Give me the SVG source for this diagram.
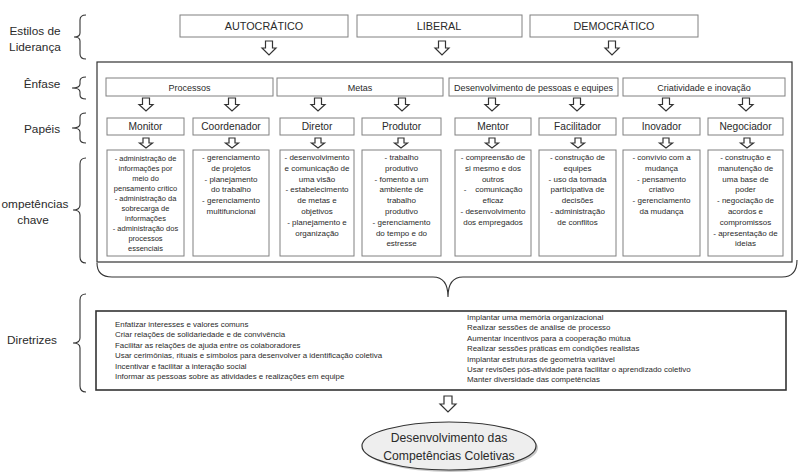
<svg xmlns="http://www.w3.org/2000/svg" width="800" height="476" viewBox="0 0 800 476">
<style>
.t{font-family:"Liberation Sans",Arial,sans-serif;fill:#2a2a2a}
.lbl{font-size:11.8px;text-anchor:middle}
.sty{font-size:10.8px;text-anchor:middle}
.enf{font-size:9px;text-anchor:middle}
.role{font-size:10.2px;text-anchor:middle}
.comp{font-size:8px;text-anchor:middle}
.compm{font-size:7.5px;text-anchor:middle}
.dir{font-size:7.9px}
.box{fill:#fff;stroke:#808080;stroke-width:1}
.frame{fill:none;stroke:#333;stroke-width:1.2}
.brace{fill:none;stroke:#333;stroke-width:1.1}
.arr{fill:#fff;stroke:#333;stroke-width:1.2;stroke-linejoin:miter}
</style>
<defs>
<path id="aL" class="arr" d="M-3.5 0H3.5V7H7L0 14L-7 7H-3.5Z"/>
<path id="aM" class="arr" d="M-3.5 0H3.5V6.5H7L0 13L-7 6.5H-3.5Z"/>
<path id="aS" class="arr" d="M-3 0H3V5H6.5L0 10L-6.5 5H-3Z"/>
</defs>
<rect width="800" height="476" fill="#fff"/>

<g id="labels">
<text class="t lbl" x="35" y="35">Estilos de</text>
<text class="t lbl" x="35" y="51">Liderança</text>
<text class="t lbl" x="42" y="88">Ênfase</text>
<text class="t lbl" x="42" y="133">Papéis</text>
<text class="t lbl" x="35" y="208">ompetências</text>
<text class="t lbl" x="33" y="224">chave</text>
<text class="t lbl" x="32" y="344">Diretrizes</text>
</g>

<g id="braces">
<path class="brace" d="M86 15Q80 15 80 20L80 33Q80 37 74 37Q80 37 80 41L80 54Q80 59 86 59"/>
<path class="brace" d="M86 77Q80 77 80 81L80 84Q80 88 72 88Q80 88 80 92L80 95Q80 99 86 99"/>
<path class="brace" d="M86 113Q80 113 80 117L80 124Q80 128 72 128Q80 128 80 132L80 139Q80 143 86 143"/>
<path class="brace" d="M86 158Q80 158 80 164L80 205Q80 210 73 210Q80 210 80 215L80 257Q80 263 86 263"/>
<path class="brace" d="M86 294Q80 294 80 300L80 338Q80 343 73 343Q80 343 80 348L80 386Q80 392 86 392"/>
<path class="brace" d="M97 263Q97 277 112 277L433 277Q448 277 448 297Q448 277 463 277L782 277Q797 277 797 260"/>
</g>

<g id="estilos">
<g id="autocratico"><rect class="box" x="180" y="15" width="168" height="22"/><text class="t sty" x="264" y="30">AUTOCRÁTICO</text></g>
<g id="liberal"><rect class="box" x="357" y="15" width="165" height="22"/><text class="t sty" x="439" y="30">LIBERAL</text></g>
<g id="democratico"><rect class="box" x="530" y="15" width="168" height="22"/><text class="t sty" x="614" y="30">DEMOCRÁTICO</text></g>
</g>

<g id="main-frame"><rect class="frame" x="97" y="62" width="695" height="200"/></g>

<g id="enfase">
<g id="processos"><rect class="box" x="106" y="78" width="167" height="18"/><text class="t enf" x="189.5" y="90.5">Processos</text></g>
<g id="metas"><rect class="box" x="277" y="78" width="166" height="18"/><text class="t enf" x="360" y="90.5">Metas</text></g>
<g id="desenvolvimento"><rect class="box" x="449" y="78" width="169" height="18"/><text class="t enf" x="533.5" y="90.5">Desenvolvimento de pessoas e equipes</text></g>
<g id="criatividade"><rect class="box" x="623" y="78" width="162" height="18"/><text class="t enf" x="704" y="90.5">Criatividade e inovação</text></g>
</g>

<g id="papeis">
<g id="monitor"><rect class="box" x="107" y="118" width="77" height="17"/><text class="t role" x="145.5" y="130">Monitor</text></g>
<g id="coordenador"><rect class="box" x="193" y="118" width="76" height="17"/><text class="t role" x="231" y="130">Coordenador</text></g>
<g id="diretor"><rect class="box" x="280" y="118" width="74" height="17"/><text class="t role" x="317" y="130">Diretor</text></g>
<g id="produtor"><rect class="box" x="362" y="118" width="79" height="17"/><text class="t role" x="401.5" y="130">Produtor</text></g>
<g id="mentor"><rect class="box" x="455" y="118" width="76" height="17"/><text class="t role" x="493" y="130">Mentor</text></g>
<g id="facilitador"><rect class="box" x="539" y="118" width="77" height="17"/><text class="t role" x="577.5" y="130">Facilitador</text></g>
<g id="inovador"><rect class="box" x="623" y="118" width="77" height="17"/><text class="t role" x="661.5" y="130">Inovador</text></g>
<g id="negociador"><rect class="box" x="708" y="118" width="75" height="17"/><text class="t role" x="745.5" y="130">Negociador</text></g>
</g>

<g id="competencias">
<g id="comp-monitor"><rect class="box" x="107" y="150" width="77" height="106"/>
<text class="t compm" y="160.5"><tspan x="145.5">- administração de</tspan><tspan x="145.5" dy="10">informações por</tspan><tspan x="145.5" dy="10">meio do</tspan><tspan x="145.5" dy="10">pensamento crítico</tspan><tspan x="145.5" dy="10">- administração da</tspan><tspan x="145.5" dy="10">sobrecarga de</tspan><tspan x="145.5" dy="10">informações</tspan><tspan x="145.5" dy="10">- administração dos</tspan><tspan x="145.5" dy="10">processos</tspan><tspan x="145.5" dy="10">essenciais</tspan></text></g>
<g id="comp-coordenador"><rect class="box" x="193" y="150" width="76" height="106"/>
<text class="t comp" y="160"><tspan x="231">- gerenciamento</tspan><tspan x="231" dy="10.8">de projetos</tspan><tspan x="231" dy="10.8">- planejamento</tspan><tspan x="231" dy="10.8">do trabalho</tspan><tspan x="231" dy="10.8">- gerenciamento</tspan><tspan x="231" dy="10.8">multifuncional</tspan></text></g>
<g id="comp-diretor"><rect class="box" x="280" y="150" width="74" height="106"/>
<text class="t comp" y="160"><tspan x="317">- desenvolvimento</tspan><tspan x="317" dy="10.8">e comunicação de</tspan><tspan x="317" dy="10.8">uma visão</tspan><tspan x="317" dy="10.8">- estabelecimento</tspan><tspan x="317" dy="10.8">de metas e</tspan><tspan x="317" dy="10.8">objetivos</tspan><tspan x="317" dy="10.8">- planejamento e</tspan><tspan x="317" dy="10.8">organização</tspan></text></g>
<g id="comp-produtor"><rect class="box" x="362" y="150" width="79" height="106"/>
<text class="t comp" y="160"><tspan x="401.5">- trabalho</tspan><tspan x="401.5" dy="10.8">produtivo</tspan><tspan x="401.5" dy="10.8">- fomento a um</tspan><tspan x="401.5" dy="10.8">ambiente de</tspan><tspan x="401.5" dy="10.8">trabalho</tspan><tspan x="401.5" dy="10.8">produtivo</tspan><tspan x="401.5" dy="10.8">- gerenciamento</tspan><tspan x="401.5" dy="10.8">do tempo e do</tspan><tspan x="401.5" dy="10.8">estresse</tspan></text></g>
<g id="comp-mentor"><rect class="box" x="455" y="150" width="76" height="106"/>
<text class="t comp" y="160"><tspan x="493">- compreensão de</tspan><tspan x="493" dy="10.8">si mesmo e dos</tspan><tspan x="493" dy="10.8">outros</tspan><tspan x="493" dy="10.8" xml:space="preserve">-    comunicação</tspan><tspan x="493" dy="10.8">eficaz</tspan><tspan x="493" dy="10.8">- desenvolvimento</tspan><tspan x="493" dy="10.8">dos empregados</tspan></text></g>
<g id="comp-facilitador"><rect class="box" x="539" y="150" width="77" height="106"/>
<text class="t comp" y="160"><tspan x="577.5">- construção de</tspan><tspan x="577.5" dy="10.8">equipes</tspan><tspan x="577.5" dy="10.8">- uso da tomada</tspan><tspan x="577.5" dy="10.8">participativa de</tspan><tspan x="577.5" dy="10.8">decisões</tspan><tspan x="577.5" dy="10.8">- administração</tspan><tspan x="577.5" dy="10.8">de conflitos</tspan></text></g>
<g id="comp-inovador"><rect class="box" x="623" y="150" width="77" height="106"/>
<text class="t comp" y="160"><tspan x="661.5">- convívio com a</tspan><tspan x="661.5" dy="10.8">mudança</tspan><tspan x="661.5" dy="10.8">- pensamento</tspan><tspan x="661.5" dy="10.8">criativo</tspan><tspan x="661.5" dy="10.8">- gerenciamento</tspan><tspan x="661.5" dy="10.8">da mudança</tspan></text></g>
<g id="comp-negociador"><rect class="box" x="708" y="150" width="75" height="106"/>
<text class="t comp" y="160"><tspan x="745.5">- construção e</tspan><tspan x="745.5" dy="10.8">manutenção de</tspan><tspan x="745.5" dy="10.8">uma base de</tspan><tspan x="745.5" dy="10.8">poder</tspan><tspan x="745.5" dy="10.8">- negociação de</tspan><tspan x="745.5" dy="10.8">acordos e</tspan><tspan x="745.5" dy="10.8">compromissos</tspan><tspan x="745.5" dy="10.8">- apresentação de</tspan><tspan x="745.5" dy="10.8">ideias</tspan></text></g>
</g>

<g id="diretrizes">
<rect x="96" y="311" width="690" height="79" fill="#fff" stroke="#333" stroke-width="1.6"/>
<text class="t dir" y="327"><tspan x="115">Enfatizar interesses e valores comuns</tspan><tspan x="115" dy="10.4">Criar relações de solidariedade e de convivência</tspan><tspan x="115" dy="10.4">Facilitar as relações de ajuda entre os colaboradores</tspan><tspan x="115" dy="10.4">Usar cerimônias, rituais e símbolos para desenvolver a identificação coletiva</tspan><tspan x="115" dy="10.4">Incentivar e facilitar a interação social</tspan><tspan x="115" dy="10.4">Informar as pessoas sobre as atividades e realizações em equipe</tspan></text>
<text class="t dir" y="320"><tspan x="467">Implantar uma memória organizacional</tspan><tspan x="467" dy="10.4">Realizar sessões de análise de processo</tspan><tspan x="467" dy="10.4">Aumentar incentivos para a cooperação mútua</tspan><tspan x="467" dy="10.4">Realizar sessões práticas em condições realistas</tspan><tspan x="467" dy="10.4">Implantar estruturas de geometria variável</tspan><tspan x="467" dy="10.4">Usar revisões pós-atividade para facilitar o aprendizado coletivo</tspan><tspan x="467" dy="10.4">Manter diversidade das competências</tspan></text>
</g>

<g id="resultado">
<ellipse cx="451" cy="448" rx="87" ry="24" fill="#c8c8c8"/>
<ellipse cx="449" cy="446" rx="87" ry="24" fill="#eeeeee" stroke="#333" stroke-width="1.2"/>
<text class="t" x="449" y="442" font-size="12.2" text-anchor="middle">Desenvolvimento das</text>
<text class="t" x="449" y="460" font-size="12.2" text-anchor="middle">Competências Coletivas</text>
</g>

<g id="connectors">
<use href="#aL" x="269" y="41"/>
<use href="#aL" x="442" y="41"/>
<use href="#aL" x="612" y="41"/>
<use href="#aM" x="146" y="98"/>
<use href="#aM" x="232" y="98"/>
<use href="#aM" x="318" y="98"/>
<use href="#aM" x="402" y="98"/>
<use href="#aM" x="492" y="98"/>
<use href="#aM" x="577" y="98"/>
<use href="#aM" x="666" y="98"/>
<use href="#aM" x="746" y="98"/>
<use href="#aS" x="146" y="138"/>
<use href="#aS" x="232" y="138"/>
<use href="#aS" x="318" y="138"/>
<use href="#aS" x="401" y="138"/>
<use href="#aS" x="492" y="138"/>
<use href="#aS" x="578" y="138"/>
<use href="#aS" x="666" y="138"/>
<use href="#aS" x="747" y="138"/>
<path class="arr" d="M444 396H452V404H456L448 412L440 404H444Z"/>
</g>
</svg>
